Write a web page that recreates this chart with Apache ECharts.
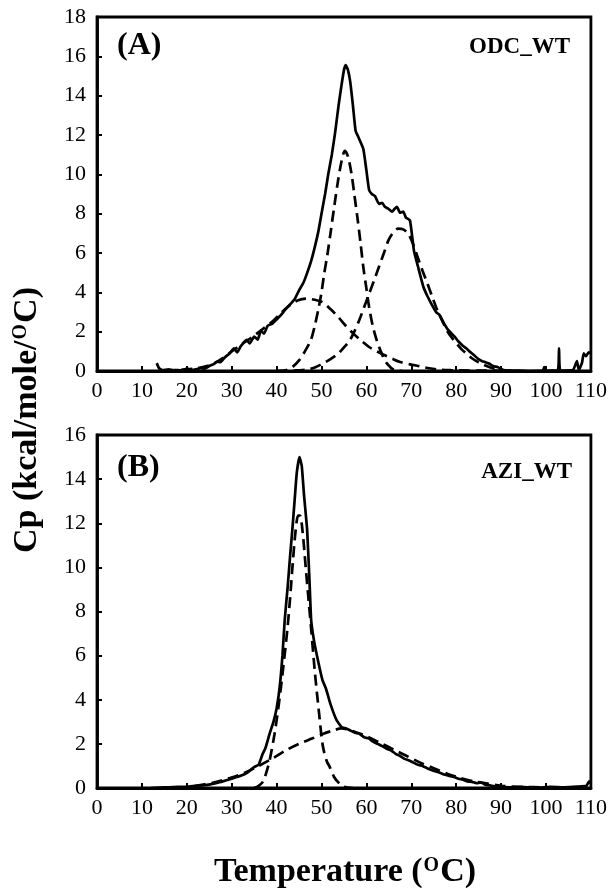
<!DOCTYPE html>
<html>
<head>
<meta charset="utf-8">
<script src="https://cdn.jsdelivr.net/npm/echarts@6/dist/echarts.min.js"></script>
<style>
  html, body { margin: 0; padding: 0; background: #fff; }
  #main { width: 610px; height: 893px; }
</style>
</head>
<body>
<div id="main"></div>
<script>
// x 轴刻度 (温度)
const tempTicks = [0, 10, 20, 30, 40, 50, 60, 70, 80, 90, 100, 110];

// (A) ODC_WT  [温度, Cp]
const odcTotal = [
    [13.3, 0.4], [13.8, 0.15], [14.5, 0.05], [16, 0.08], [17, 0.03], [18, 0.05], [19, 0.02], [20, 0.12],
    [21, 0.05], [22, 0.08], [23, 0.15], [24, 0.12], [25, 0.25], [26, 0.35], [26.6, 0.47], [27.5, 0.45],
    [28.5, 0.7], [29.6, 0.9], [30.5, 1.15], [31.2, 0.95], [32, 1.25], [33.3, 1.58], [34, 1.4], [35, 1.75],
    [35.8, 1.6], [36.5, 2.05], [37.2, 1.9], [38, 2.3], [39, 2.4], [39.9, 2.6], [41, 2.85], [42, 3.15],
    [42.9, 3.36], [44, 3.65], [45, 4.1], [46, 4.5], [46.75, 4.95], [47.7, 5.6], [48.5, 6.3], [49.3, 7.1],
    [50, 8.0], [50.8, 9.0], [51.5, 10.0], [52.3, 11.0], [53, 12.07], [53.8, 13.5], [54.5, 14.6], [55, 15.3],
    [55.4, 15.55], [55.9, 15.3], [56.4, 14.7], [57, 13.5], [57.6, 12.2], [58.2, 11.9], [59.3, 11.3], [60, 10.2],
    [60.6, 9.2], [61.2, 9.0], [61.9, 8.9], [62.8, 8.5], [63.5, 8.55], [64.1, 8.35], [64.9, 8.25], [65.7, 8.1],
    [66.3, 8.25], [66.8, 8.35], [67.5, 8.05], [68.2, 8.1], [68.8, 7.8], [69.7, 7.66], [70.6, 6.1], [71.5, 5.3],
    [72.7, 4.27], [73.6, 3.8], [74.5, 3.4], [75.5, 3.0], [76.3, 2.85], [77.1, 2.5], [78, 2.15], [78.8, 1.95],
    [79.7, 1.73], [80.5, 1.5], [81.4, 1.3], [82.3, 1.14], [83.2, 0.95], [84, 0.8], [84.8, 0.63], [85.8, 0.5],
    [86.5, 0.45], [87.4, 0.37], [88.2, 0.25], [89.2, 0.2], [90, 0.1], [90.9, 0.03], [93, 0.02], [96, 0.0],
    [99.3, 0.02], [99.6, 0.2], [99.9, 0.02], [102.6, 0.02], [102.9, 1.15], [103.2, 0.02], [106, 0.05],
    [106.9, 0.5], [107.3, 0.05], [108, 0.4], [108.4, 0.9], [108.9, 0.75], [109.5, 0.95], [110, 0.9]
];
const odcPeak1 = [
    [15, 0], [16.5, 0.03], [19, 0.07], [21.6, 0.12], [24, 0.22], [26, 0.37], [28, 0.65], [30.3, 1.05],
    [32.5, 1.4], [34.6, 1.73], [37, 2.15], [39, 2.5], [41, 2.95], [42.9, 3.34], [44.8, 3.6], [46.75, 3.68],
    [48.5, 3.62], [50.2, 3.5], [52, 3.15], [53.7, 2.75], [55.4, 2.3], [57.1, 1.9], [58.8, 1.55], [60.6, 1.22],
    [62.3, 1.0], [64.1, 0.8], [65.8, 0.62], [67.5, 0.46], [69.7, 0.34], [71.9, 0.24], [74, 0.14], [76.2, 0.07],
    [78.8, 0.04], [81.4, 0.03], [86, 0.02], [92, 0.01]
];
const odcPeak2 = [
    [40, 0], [42, 0.03], [43.5, 0.2], [45, 0.54], [46.3, 1.0], [47.6, 1.56], [48.5, 2.3], [49.4, 3.25],
    [50, 4.0], [50.6, 4.95], [51.3, 5.9], [52, 7.0], [52.8, 8.3], [53.7, 9.7], [54.5, 10.7], [55.2, 11.2],
    [55.9, 10.9], [56.7, 10.0], [57.3, 9.0], [58, 7.8], [58.7, 6.5], [59.3, 5.3], [60, 4.2], [60.6, 3.25],
    [61.4, 2.3], [62.3, 1.56], [63.2, 1.0], [64.1, 0.54], [65, 0.27], [65.8, 0.1], [67, 0.02], [68, 0]
];
const odcPeak3 = [
    [40, 0], [42.4, 0.0], [44.5, 0.03], [46.8, 0.07], [48.5, 0.18], [50.2, 0.37], [52, 0.6], [53.7, 0.88],
    [55, 1.2], [56.3, 1.56], [57.4, 2.05], [58.4, 2.58], [59.5, 3.25], [60.6, 3.93], [61.7, 4.6], [62.8, 5.3],
    [63.9, 6.0], [64.9, 6.64], [66, 7.05], [67.1, 7.24], [68.2, 7.2], [69.3, 6.98], [70.4, 6.45], [71.4, 5.8],
    [72.5, 5.1], [73.6, 4.44], [74.7, 3.75], [75.8, 3.08], [76.9, 2.55], [77.9, 2.07], [79, 1.7], [80.1, 1.39],
    [81.2, 1.1], [82.3, 0.88], [83.5, 0.65], [84.8, 0.46], [86, 0.32], [87.4, 0.2], [88.7, 0.1], [90, 0.03],
    [94, 0.01]
];

// (B) AZI_WT  [温度, Cp]
const aziTotal = [
    [12, 0.0], [14, 0.02], [16, 0.03], [18, 0.05], [20, 0.06], [22, 0.1], [24, 0.13], [26, 0.2],
    [28, 0.3], [30, 0.42], [32, 0.55], [33.5, 0.7], [35, 0.95], [36, 1.05], [36.8, 1.5], [37.5, 1.8],
    [38.5, 2.5], [39.3, 3.0], [40, 3.6], [40.7, 4.6], [41.3, 6.0], [41.8, 7.6], [42.5, 9.2], [43, 10.5],
    [43.5, 11.7], [44, 13.0], [44.5, 14.3], [45.1, 15.0], [45.6, 14.6], [46.1, 13.3], [46.8, 11.7], [47.3, 9.5],
    [47.7, 7.6], [48.4, 6.6], [49.3, 5.7], [50.2, 4.9], [51, 4.5], [52, 3.8], [53.3, 3.1], [54.5, 2.75],
    [55.5, 2.7], [56.5, 2.6], [57.5, 2.5], [58.5, 2.45], [59.5, 2.3], [60.5, 2.25], [61.5, 2.1], [62.5, 2.0],
    [63.5, 1.9], [64.5, 1.78], [65.5, 1.7], [66.5, 1.55], [67.5, 1.45], [68.5, 1.32], [69.5, 1.25], [70.5, 1.15],
    [71.5, 1.05], [72.5, 1.0], [73.5, 0.9], [74.5, 0.82], [75.5, 0.75], [76.5, 0.68], [77.5, 0.6], [78.5, 0.55],
    [79.5, 0.5], [80.5, 0.42], [81.5, 0.38], [82.5, 0.3], [83.5, 0.28], [84.5, 0.22], [85.5, 0.25], [86.5, 0.15],
    [87.5, 0.12], [88.5, 0.08], [90, 0.05], [92, 0.03], [95, 0.04], [98, 0.02], [101, 0.05], [104, 0.03],
    [107, 0.06], [109, 0.1], [109.6, 0.3], [110, 0.2]
];
const aziPeak1 = [
    [35, 0], [36, 0.1], [37, 0.3], [38, 0.9], [38.5, 1.3], [39.5, 2.4], [40.5, 3.8], [41.5, 5.5],
    [42.4, 7.2], [43, 8.6], [43.6, 10.2], [44.2, 11.6], [44.8, 12.35], [45.2, 12.35], [45.8, 11.6], [46.4, 10.2],
    [47, 8.8], [47.7, 7.2], [48.5, 5.3], [49.4, 3.5], [50.3, 1.9], [51.2, 1.2], [51.8, 0.97], [52.8, 0.5],
    [54, 0.2], [55, 0.05], [57, 0]
];
const aziPeak2 = [
    [18, 0.0], [20, 0.03], [22, 0.1], [26, 0.25], [29.6, 0.45], [33, 0.7], [36, 1.0], [39.2, 1.35],
    [42, 1.7], [45, 2.0], [48, 2.25], [50.3, 2.45], [52.5, 2.6], [54.4, 2.7], [56, 2.65], [58, 2.5],
    [60, 2.35], [63, 2.05], [66, 1.75], [69, 1.45], [72, 1.15], [75, 0.9], [78, 0.65], [81, 0.45],
    [84, 0.3], [87, 0.2], [90, 0.1], [95, 0.05], [100, 0.03]
];

const yTicksA = [0, 2, 4, 6, 8, 10, 12, 14, 16, 18];
const yTicksB = [0, 2, 4, 6, 8, 10, 12, 14, 16];

const serif = 'Liberation Serif';
const chart = echarts.init(document.getElementById('main'), null, { renderer: 'canvas' });

function xAxisOf(gridIndex) {
    return {
        type: 'value',
        gridIndex: gridIndex,
        min: tempTicks[0],
        max: tempTicks[tempTicks.length - 1],
        interval: 10,
        axisLine: { show: true, onZero: false, lineStyle: { color: '#000', width: 2.8 } },
        axisTick: { show: true, inside: true, length: 5, lineStyle: { color: '#000', width: 2 } },
        axisLabel: { color: '#000', fontFamily: serif, fontSize: 22, margin: 9, showMaxLabel: true, showMinLabel: true },
        splitLine: { show: false }
    };
}

function yAxisOf(gridIndex, ticks) {
    return {
        type: 'value',
        gridIndex: gridIndex,
        min: 0,
        max: ticks[ticks.length - 1],
        interval: 2,
        axisLine: { show: true, lineStyle: { color: '#000', width: 2.8 } },
        axisTick: { show: true, inside: true, length: 5, lineStyle: { color: '#000', width: 2 } },
        axisLabel: { color: '#000', fontFamily: serif, fontSize: 22, margin: 11 },
        splitLine: { show: false }
    };
}

function curve(data, idx, dashed) {
    return {
        type: 'line',
        xAxisIndex: idx,
        yAxisIndex: idx,
        data: data,
        showSymbol: false,
        smooth: dashed ? 0.3 : 0.15,
        lineStyle: { color: '#000', width: 2.7, type: dashed ? [11, 6] : 'solid' },
        silent: true,
        animation: false
    };
}

const titleRich = {
    a: { fontFamily: serif, fontWeight: 'bold', fontSize: 34, fill: '#000' },
    s: { fontFamily: serif, fontWeight: 'bold', fontSize: 20, fill: '#000', padding: [0, 1, 12, 1] }
};

var option = {
    backgroundColor: '#fff',
    animation: false,
    grid: [
        { left: 97, right: 18, top: 17, height: 354, show: true, borderColor: '#000', borderWidth: 2.8 },
        { left: 97, right: 18, top: 435, height: 353, show: true, borderColor: '#000', borderWidth: 2.8 }
    ],
    xAxis: [xAxisOf(0), xAxisOf(1)],
    yAxis: [yAxisOf(0, yTicksA), yAxisOf(1, yTicksB)],
    series: [
        curve(odcPeak1, 0, true),
        curve(odcPeak2, 0, true),
        curve(odcPeak3, 0, true),
        curve(odcTotal, 0, false),
        curve(aziPeak1, 1, true),
        curve(aziPeak2, 1, true),
        curve(aziTotal, 1, false)
    ],
    graphic: [
        { type: 'text', left: 117, top: 30, style: { text: '(A)', fontFamily: serif, fontWeight: 'bold', fontSize: 32, fill: '#000' } },
        { type: 'text', right: 40, top: 36, style: { text: 'ODC_WT', fontFamily: serif, fontWeight: 'bold', fontSize: 23, fill: '#000' } },
        { type: 'text', left: 117, top: 452, style: { text: '(B)', fontFamily: serif, fontWeight: 'bold', fontSize: 32, fill: '#000' } },
        { type: 'text', right: 38, top: 461, style: { text: 'AZI_WT', fontFamily: serif, fontWeight: 'bold', fontSize: 23, fill: '#000' } },
        {
            type: 'text', x: 345, y: 872,
            style: { text: '{a|Temperature (}{s|O}{a|C)}', rich: titleRich, align: 'center', verticalAlign: 'middle' }
        },
        {
            type: 'text', x: 27, y: 420, rotation: Math.PI / 2,
            style: { text: '{a|Cp (kcal/mole/}{s|O}{a|C)}', rich: titleRich, align: 'center', verticalAlign: 'middle' }
        }
    ]
};

chart.setOption(option);
</script>
</body>
</html>
